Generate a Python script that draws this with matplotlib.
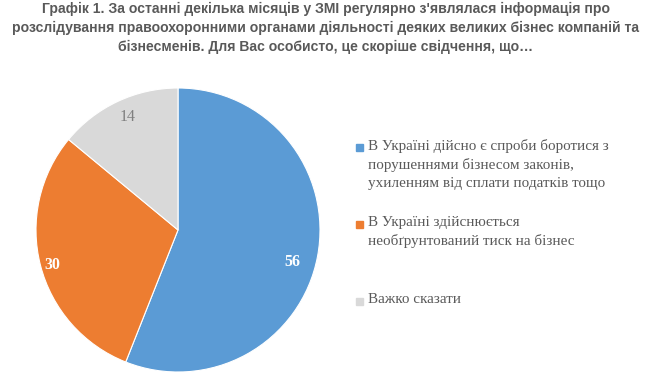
import matplotlib.pyplot as plt
import numpy as np
from matplotlib.patches import Rectangle

title_lines = [
    "Графік 1. За останні декілька місяців у ЗМІ регулярно з'являлася інформація про",
    "розслідування правоохоронними органами діяльності деяких великих бізнес компаній та",
    "бізнесменів. Для Вас особисто, це скоріше свідчення, що…",
]
categories = [
    "В Україні дійсно є спроби боротися з\nпорушеннями бізнесом законів,\nухиленням від сплати податків тощо",
    "В Україні здійснюється\nнеобґрунтований тиск на бізнес",
    "Важко сказати",
]
values = [56, 30, 14]
colors = ["#5B9BD5", "#ED7D31", "#D9D9D9"]
label_colors = ["white", "white", "#7F7F7F"]
label_weights = ["bold", "bold", "normal"]
label_dist = [0.84, 0.915, 0.873]
label_shift = [-5, 1, -1]  # degrees, nudges like Excel's placement

W, H = 652, 375
fig = plt.figure(figsize=(W / 100, H / 100), dpi=100)

# pie: centre ~ (178, 230) px, radius ~142 px
cx, cy, r = 178, 230, 142
ax = fig.add_axes([(cx - r) / W, (H - cy - r) / H, 2 * r / W, 2 * r / H])
wedges, _ = ax.pie(values, colors=colors, startangle=90, counterclock=False,
                   wedgeprops=dict(edgecolor="white", linewidth=0.8))
ax.set_xlim(-1, 1)
ax.set_ylim(-1, 1)
ax.set_aspect("equal")
for w, v, c, fw, d, s in zip(wedges, values, label_colors, label_weights,
                             label_dist, label_shift):
    ang = np.radians((w.theta1 + w.theta2) / 2 + s)
    ax.text(d * np.cos(ang), d * np.sin(ang), str(v), ha="center", va="center",
            fontsize=11.5, color=c, fontweight=fw, family="Liberation Serif")

# title
for i, line in enumerate(title_lines):
    fig.text(326 / W, 1 - (9 + 19 * i) / H, line, ha="center", va="center",
             fontsize=10.1, fontweight="bold", color="#595959",
             family="Liberation Sans")

# legend, drawn by hand (each entry gets the same height)
entry_top = [147, 224, 301]
for lab, col, y in zip(categories, colors, entry_top):
    fig.patches.append(Rectangle((356 / W, 1 - (y + 4) / H), 7 / W, 7 / H,
                                 transform=fig.transFigure, color=col))
    fig.text(368 / W, 1 - (y - 8) / H, lab, ha="left", va="top",
             fontsize=10.9, color="#595959", family="Liberation Serif",
             linespacing=1.5)

fig.savefig("out.png", dpi=100)
